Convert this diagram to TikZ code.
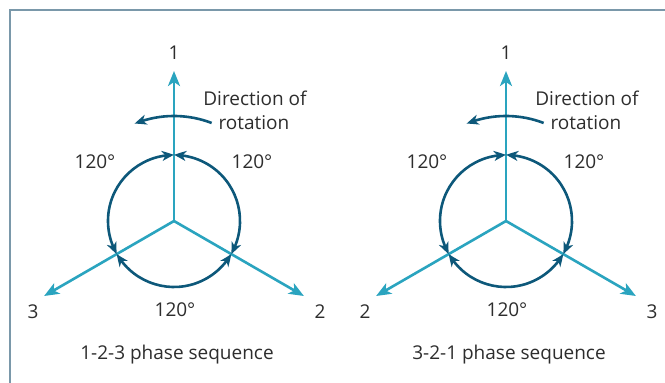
\documentclass[tikz,border=0pt]{standalone}
\usepackage{fontspec}
\setmainfont{Open Sans}
\usetikzlibrary{arrows.meta,bending}
\definecolor{armc}{RGB}{42,164,191}
\definecolor{circc}{RGB}{13,88,122}
\definecolor{framec}{RGB}{122,152,170}
\definecolor{txtc}{RGB}{45,45,45}
\tikzset{
  arm/.style={draw=armc, line width=2.6pt, -{Stealth[length=15pt,width=12pt,inset=4pt]}},
  ring/.style={draw=circc, line width=2.6pt, {Stealth[length=12pt,width=10pt,inset=3.5pt,bend]}-{Stealth[length=12pt,width=10pt,inset=3.5pt,bend]}},
  rot/.style={draw=circc, line width=2.6pt, -{Stealth[length=12pt,width=10pt,inset=3.5pt,bend]}},
  lbl/.style={text=txtc, font=\fontsize{19}{22}\selectfont, inner sep=0pt},
  pics/phase/.style n args={3}{code={
    \coordinate (-O) at (0,0);
    \coordinate (-T1) at (90:150);
    \coordinate (-T2) at (-30:150);
    \coordinate (-T3) at (210:150);
    \draw[arm] (-O) -- (-T1);
    \draw[arm] (-O) -- (-T2);
    \draw[arm] (-O) -- (-T3);
    \draw[ring] (90:66) arc[start angle=90, end angle=210, radius=66];
    \draw[ring] (210:66) arc[start angle=210, end angle=330, radius=66];
    \draw[ring] (330:66) arc[start angle=330, end angle=450, radius=66];
    \draw[rot] (69:105) arc[start angle=69, end angle=112, radius=105];
    \node[lbl] (-L1) at (0,168) {1};
    \node[lbl] (-LL) at (-141,-91) {#1};
    \node[lbl] (-LR) at (146,-91) {#2};
    \node[lbl] (-A1) at (-79,59) {120°};
    \node[lbl] (-A2) at (78,59) {120°};
    \node[lbl] (-A3) at (1,-89) {120°};
    \node[lbl] (-D1) at (81,123) {Direction of};
    \node[lbl] (-D2) at (80,98) {rotation};
    \node[lbl] (-C) at (3,-134) {#3 phase sequence};
  }}
}
\begin{document}
\begin{tikzpicture}[x=1pt,y=1pt]
\useasboundingbox (0,0) rectangle (665,383);
\fill[white] (0,0) rectangle (665,383);
\draw[framec, line width=2.5pt] (10,0) -- (10,373) -- (665,373);
\pic (L) at (174,162) {phase={3}{2}{1-2-3}};
\pic (R) at (506,162) {phase={2}{3}{3-2-1}};
\end{tikzpicture}
\end{document}
